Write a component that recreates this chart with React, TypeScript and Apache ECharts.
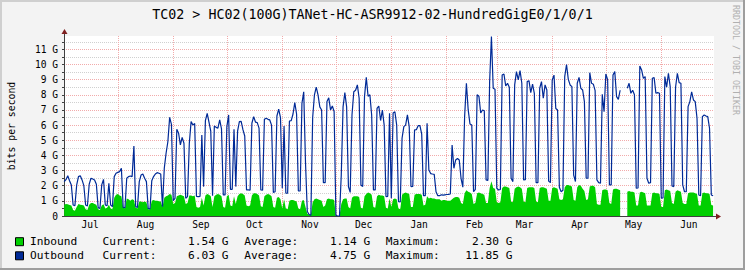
import React, { useEffect, useRef } from 'react';
import * as echarts from 'echarts';

const FONT = '"DejaVu Sans Mono", monospace';

const titleText = 'TC02 > HC02(100G)TANet-HC-ASR9912-02-HundredGigE0/1/0/1';
const yAxisTitle = 'bits per second';
const watermark = 'RRDTOOL / TOBI OETIKER';

// x axis: days counted from Jul 1 (day 0)
const monthNames = ['Jul', 'Aug', 'Sep', 'Oct', 'Nov', 'Dec', 'Jan', 'Feb', 'Mar', 'Apr', 'May', 'Jun'];
const monthStartDays = [31, 62, 92, 123, 153, 184, 215, 243, 274, 304, 335];
const monthLabelDays = [15.5, 46.5, 77.5, 107.5, 138.5, 168.5, 199.5, 230.5, 258.5, 289.5, 319.5, 350.5];

// daily values in G (bits per second), day 1 .. day 364
const inbound: (number | null)[] = [
  0.75, 0.8, 0.78, 0.72, 0.7, 0.4, 0.35,
  0.6, 0.8, 0.75, 0.72, 0.7, 0.45, 0.4,
  0.75, 0.85, 0.85, 0.8, 0.75, 0.45, 0.4,
  0.7, 0.78, 0.5, 0.55, 0.75, 0.5, 0.45,
  1.2, 1.4, 1.45, 1.35, 1.3, 0.6, 0.5,
  1.15, 1.1, 1.0, 1.1, 1.05, 0.55, 0.5,
  0.95, 0.95, 0.9, 0.95, 0.9, 0.45, 0.45,
  1.0, 1.05, 1.0, 1.0, 0.98, 0.95, 0.6,
  1.2, 1.3, 1.35, 1.45, 1.4, 0.8, 0.85,
  1.3, 1.35, 1.4, 1.35, 1.3, 0.8, 0.85,
  1.35, 1.35, 1.3, 1.35, 0.6, 0.55, 0.6,
  1.2, 0.7, 1.35, 1.45, 1.4, 1.3, 0.6,
  1.3, 1.4, 1.45, 1.4, 1.3, 0.6, 0.55,
  1.3, 1.4, 0.7, 0.65, 1.3, 0.8, 1.3,
  1.45, 1.5, 1.45, 1.35, 0.7, 0.65, 0.7,
  1.35, 1.5, 1.5, 1.45, 1.35, 0.65, 0.6,
  1.3, 1.4, 1.45, 1.4, 1.3, 0.6, 0.55,
  1.2, 1.25, 1.1, 0.5, 1.1, 0.5, 0.45,
  1.0, 1.05, 1.05, 1.0, 0.95, 0.5, 0.45,
  1.0, 1.05, 0.6, 0.15, 0.1, 0.1, 0.9,
  1.1, 1.15, 1.1, 1.05, 1.0, 0.6, 0.7,
  1.1, 1.15, 1.1, 1.1, 1.05, 0, 0,
  0, 0.8, 1.1, 1.15, 1.15, 0.6, 0.5,
  1.2, 1.3, 1.3, 1.3, 1.25, 0.55, 0.5,
  1.3, 1.45, 1.55, 1.5, 1.4, 0.6, 0.55,
  1.3, 1.4, 1.35, 1.35, 1.3, 0.55, 0.5,
  1.15, 0.6, 1.1, 1.15, 1.1, 0.5, 0.45,
  1.4, 1.5, 1.55, 1.5, 1.45, 0.6, 0.6,
  1.4, 1.45, 1.45, 1.45, 1.4, 0.7, 0.75,
  1.3, 1.15, 1.2, 1.15, 1.15, 1.1, 1.1,
  1.1, 1.0, 1.05, 1.05, 1.0, 1.0, 1.0,
  1.1, 1.2, 1.25, 1.25, 1.2, 0.85, 0.8,
  1.5, 1.7, 1.6, 1.55, 1.45, 0.8, 0.85,
  1.5, 1.55, 1.5, 1.45, 1.4, 0.85, 0.85,
  1.85, 2.3, 1.85, 1.8, 0.9, 0.85, 0.9,
  1.85, 1.95, 1.95, 1.9, 1.85, 0.95, 0.9,
  1.8, 1.9, 1.95, 1.9, 1.8, 0.95, 0.9,
  1.85, 1.9, 1.9, 1.9, 1.85, 0.95, 0.9,
  1.85, 1.9, 1.9, 1.85, 1.8, 1.0, 1.0,
  1.85, 1.9, 1.85, 1.8, 1.1, 1.05, 1.1,
  1.9, 2.05, 2.05, 2.0, 1.95, 1.05, 1.0,
  1.9, 2.05, 2.0, 1.8, 1.65, 1.05, 1.1,
  1.95, 2.0, 2.0, 1.9, 0.8, 0.75, 0.75,
  1.7, 1.75, 1.75, 1.7, 0.85, 0.8, 1.75,
  1.8, 1.8, 1.75, 1.7, null, null, null,
  1.6, 1.65, 1.6, 1.6, 1.55, 0.7, 0.7,
  1.55, 1.6, 1.55, 1.5, 0.7, 0.7, 0.7,
  1.5, 1.55, 1.5, 1.5, 1.45, 0.6, 0.6,
  1.7, 1.75, 1.7, 1.65, 0.85, 0.8, 1.6,
  1.7, 1.65, 1.6, 0.85, 0.8, 0.8, 1.5,
  1.55, 1.55, 1.55, 1.5, 1.45, 0.7, 0.7,
  1.5, 1.55, 1.5, 1.5, 1.45, 0.72, 0.7,
];

const outbound: (number | null)[] = [
  2.27, 2.4, 2.66, 2.33, 2.05, 0.73, 0.68,
  2.05, 2.6, 2.66, 2.38, 2.0, 0.73, 0.66,
  2.1, 2.49, 2.44, 2.38, 2.1, 0.55, 0.5,
  2.05, 2.42, 0.73, 0.68, 2.16, 0.73, 0.62,
  2.6, 2.82, 2.88, 2.93, 3.15, 0.57, 0.55,
  2.49, 2.6, 2.64, 2.6, 4.62, 0.62, 0.57,
  2.27, 2.7, 2.77, 2.49, 2.27, 0.5, 0.46,
  2.33, 2.6, 2.77, 2.86, 2.82, 2.77, 0.62,
  3.15, 4.14, 4.9, 6.51, 6.05, 1.01, 1.17,
  5.72, 5.46, 4.69, 5.19, 4.8, 1.17, 1.28,
  4.8, 6.23, 6.0, 6.1, 1.3, 1.28, 1.3,
  5.35, 1.94, 6.3, 6.78, 6.2, 5.6, 1.34,
  5.94, 5.85, 5.8, 6.34, 5.75, 1.39, 1.39,
  5.9, 6.67, 1.76, 1.76, 5.72, 1.94, 5.6,
  6.23, 6.25, 5.7, 5.28, 1.72, 1.72, 1.7,
  6.12, 6.56, 6.2, 6.16, 5.8, 1.72, 1.7,
  6.38, 6.45, 6.38, 6.34, 6.0, 1.56, 1.6,
  6.6, 7.06, 6.5, 1.83, 5.94, 1.5, 1.5,
  6.27, 6.3, 6.73, 7.48, 6.73, 1.65, 1.65,
  7.44, 8.2, 3.5, 0.3, 0.1, 0.05, 6.5,
  8.0, 8.5, 8.0, 7.2, 7.0, 2.2, 2.2,
  7.55, 7.8, 7.0, 7.26, 6.9, 0.05, 0.0,
  0.0, 2.7, 7.2, 8.14, 7.2, 1.94, 1.56,
  6.67, 8.2, 8.3, 8.65, 7.77, 2.05, 1.94,
  7.88, 9.15, 7.9, 8.0, 6.67, 1.72, 1.72,
  7.1, 7.26, 6.3, 6.99, 6.0, 1.28, 1.3,
  6.78, 1.17, 6.8, 6.88, 6.0, 0.95, 0.93,
  5.13, 5.9, 6.0, 6.67, 5.9, 1.94, 1.95,
  5.68, 5.7, 5.96, 5.96, 5.4, 1.34, 1.34,
  6.12, 3.04, 2.8, 2.77, 2.75, 1.6, 1.34,
  1.34, 1.4, 1.38, 1.4, 1.42, 1.43, 1.45,
  4.69, 3.15, 3.7, 3.8, 3.7, 2.49, 1.9,
  6.56, 8.76, 7.0, 6.07, 6.0, 1.6, 1.76,
  8.0, 7.9, 6.8, 7.0, 6.95, 2.38, 2.35,
  8.87, 11.85, 8.43, 8.36, 1.83, 1.72, 1.75,
  9.3, 9.37, 8.58, 8.76, 8.5, 2.49, 2.27,
  8.65, 9.53, 8.98, 9.6, 8.76, 2.38, 2.4,
  8.87, 8.93, 8.14, 8.71, 8.1, 2.2, 2.2,
  8.43, 8.87, 7.77, 8.65, 8.32, 2.3, 2.2,
  8.98, 9.3, 7.1, 7.0, 1.9, 1.6, 1.7,
  9.2, 10.0, 9.02, 8.65, 8.54, 2.7, 2.27,
  8.76, 9.15, 8.43, 8.32, 7.55, 2.49, 2.5,
  9.46, 8.76, 8.7, 8.27, 2.38, 2.2, 2.16,
  8.03, 6.89, 9.37, 9.0, 2.05, 2.05, 9.3,
  9.53, 7.88, 7.7, 8.3, null, null, null,
  8.43, 8.76, 8.1, 8.3, 8.0, 1.83, 1.85,
  9.9, 9.64, 9.09, 9.2, 2.49, 2.16, 2.2,
  9.09, 9.13, 8.1, 8.14, 8.1, 1.17, 1.2,
  9.2, 8.5, 9.42, 8.54, 1.98, 1.94, 8.5,
  9.42, 8.8, 8.76, 2.05, 1.6, 1.6, 7.22,
  7.55, 8.2, 7.66, 7.55, 6.45, 1.39, 1.34,
  6.56, 6.67, 6.6, 6.56, 5.79, 1.39, 1.34,
];

const legendNames = ['Inbound', 'Outbound'];
const legendColors = ['#00CF00', '#002A97'];
const legendCurrent = ['1.54 G', '6.03 G'];
const legendAverage = ['1.14 G', '4.75 G'];
const legendMaximum = ['2.30 G', '11.85 G'];

const toPairs = (arr: (number | null)[]) => arr.map((v, i) => [i + 1, v == null ? '-' : v]);

export default function App() {
  const ref = useRef<HTMLDivElement>(null);

  useEffect(() => {
    document.body.style.margin = '0';
    const chart = echarts.init(ref.current as HTMLDivElement, null, { renderer: 'svg', width: 745, height: 270 });

    const txt = (x: number, y: number, text: string, size: number, align: string, extra: any = {}) => ({
      type: 'text',
      x,
      y,
      silent: true,
      ...extra,
      style: {
        text,
        fill: extra.fill || '#000',
        font: `${size}px ${FONT}`,
        align,
        textAlign: align,
        verticalAlign: 'middle',
        textVerticalAlign: 'middle',
      },
    });

    const legendEls: any[] = [];
    const rowY = [241.7, 255.8];
    legendNames.forEach((name, i) => {
      const y = rowY[i];
      legendEls.push({
        type: 'rect', silent: true,
        shape: { x: 15.5, y: y - 4, width: 8, height: 8 },
        style: { fill: legendColors[i], stroke: '#000', lineWidth: 1 },
      });
      legendEls.push(txt(30, y, name, 11.2, 'left'));
      legendEls.push(txt(102.5, y, 'Current:', 11.2, 'left'));
      legendEls.push(txt(228.5, y, legendCurrent[i], 11.2, 'right'));
      legendEls.push(txt(244.3, y, 'Average:', 11.2, 'left'));
      legendEls.push(txt(370.3, y, legendAverage[i], 11.2, 'right'));
      legendEls.push(txt(385.8, y, 'Maximum:', 11.2, 'left'));
      legendEls.push(txt(512.5, y, legendMaximum[i], 11.2, 'right'));
    });

    const option: any = {
      animation: false,
      backgroundColor: '#f3f3f3',
      textStyle: { fontFamily: FONT },
      grid: {
        left: 64, top: 36, width: 650, height: 180,
        show: true, backgroundColor: '#ffffff', borderWidth: 0,
        containLabel: false, outerBoundsMode: 'none',
      },
      xAxis: {
        type: 'value', min: 0.9, max: 364.5,
        axisLine: { show: true, onZero: false, lineStyle: { color: '#404040', width: 1 } },
        axisTick: { show: false, customValues: monthStartDays },
        splitLine: { show: true, lineStyle: { color: '#F2ABAB', type: [1, 1], width: 1 } },
        axisLabel: {
          customValues: monthLabelDays,
          formatter: (v: number) => {
            const i = monthLabelDays.indexOf(v);
            return i >= 0 ? monthNames[i] : '';
          },
          fontFamily: FONT, fontSize: 9.6, color: '#000', margin: 3,
        },
      },
      yAxis: {
        type: 'value', min: 0, max: 11.88, interval: 0.5,
        axisLine: { show: true, lineStyle: { color: '#404040', width: 1 } },
        axisTick: { show: true, length: 2, lineStyle: { color: '#404040' } },
        axisLabel: {
          formatter: (v: number) => (v === 0 ? '0' : Number.isInteger(v) ? `${v} G` : ''),
          showMaxLabel: false,
          fontFamily: FONT, fontSize: 9.6, color: '#000', margin: 6,
        },
        splitLine: {
          show: true, showMaxLine: false,
          lineStyle: { color: ['#F2ABAB', '#D0D0D0'], type: [1, 1], width: 1 },
        },
      },
      series: [
        {
          name: 'Inbound', type: 'line', data: toPairs(inbound),
          showSymbol: false, symbol: 'none', connectNulls: false,
          lineStyle: { width: 0, opacity: 0 },
          areaStyle: { color: '#00CF00', opacity: 1 },
          z: 2,
        },
        {
          name: 'Outbound', type: 'line', data: toPairs(outbound),
          showSymbol: false, symbol: 'none', connectNulls: false,
          lineStyle: { width: 1.2, color: '#002A97' },
          z: 3,
        },
      ],
      graphic: [
        { type: 'rect', silent: true, shape: { x: 0, y: 0, width: 745, height: 2 }, style: { fill: '#cfcfcf' } },
        { type: 'rect', silent: true, shape: { x: 0, y: 0, width: 2, height: 270 }, style: { fill: '#cfcfcf' } },
        { type: 'rect', silent: true, shape: { x: 0, y: 268, width: 745, height: 2 }, style: { fill: '#9e9e9e' } },
        { type: 'rect', silent: true, shape: { x: 743, y: 0, width: 2, height: 270 }, style: { fill: '#9e9e9e' } },
        txt(372.5, 14.3, titleText, 13.3, 'center'),
        txt(11.5, 126, yAxisTitle, 9.8, 'center', { rotation: Math.PI / 2 }),
        txt(736, 60, watermark, 8.3, 'center', { rotation: -Math.PI / 2, fill: '#b0b0b0' }),
        { type: 'line', silent: true, shape: { x1: 714, y1: 216.5, x2: 717, y2: 216.5 }, style: { stroke: '#404040', lineWidth: 1 } },
        { type: 'polygon', silent: true, shape: { points: [[716, 213.5], [721, 216.5], [716, 219.5]] }, style: { fill: '#7f1f1f' } },
        { type: 'line', silent: true, shape: { x1: 64.5, y1: 36, x2: 64.5, y2: 33 }, style: { stroke: '#404040', lineWidth: 1 } },
        { type: 'polygon', silent: true, shape: { points: [[61.5, 34], [64.5, 29], [67.5, 34]] }, style: { fill: '#7f1f1f' } },
        ...legendEls,
      ],
    };

    chart.setOption(option);
    return () => chart.dispose();
  }, []);

  return <div ref={ref} style={{ width: 745, height: 270 }} />;
}
